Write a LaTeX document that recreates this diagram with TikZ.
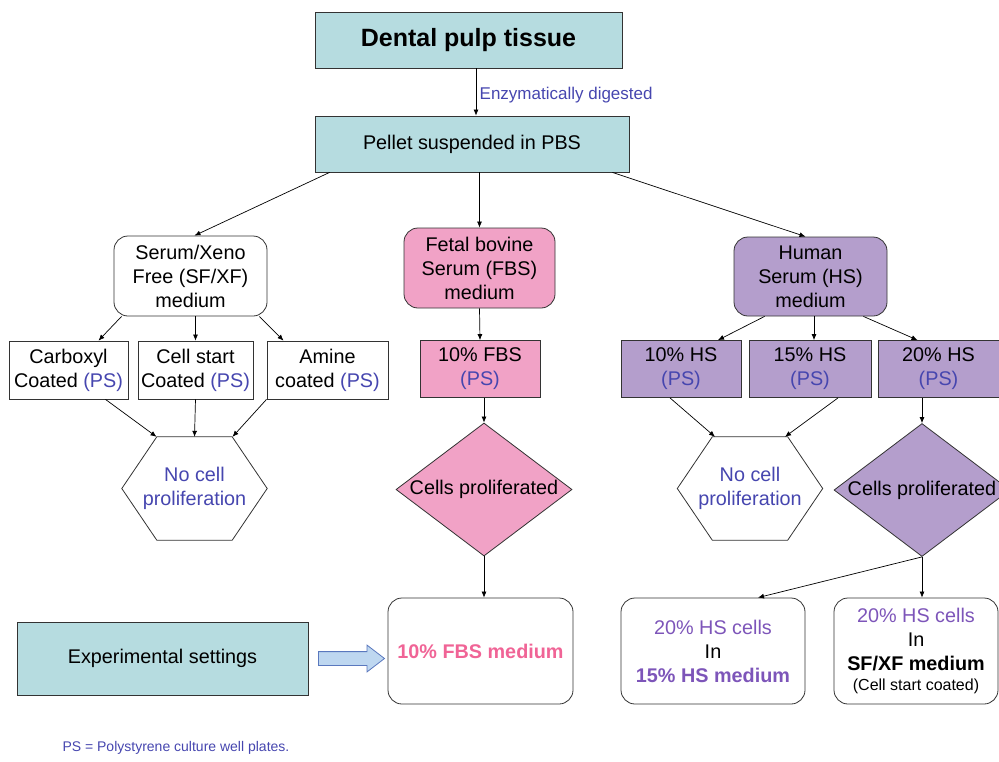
\documentclass[tikz,border=0pt]{standalone}
\usepackage{fontspec}
\setmainfont{Liberation Sans}
\usetikzlibrary{positioning,arrows.meta,shapes.geometric,shapes.arrows}
\definecolor{tealbox}{RGB}{182,220,224}
\definecolor{fbspink}{RGB}{241,162,198}
\definecolor{hspurple}{RGB}{180,158,204}
\definecolor{psblue}{RGB}{70,70,175}
\definecolor{respink}{RGB}{240,100,150}
\definecolor{respurple}{RGB}{125,85,185}
\definecolor{arrowline}{RGB}{90,120,190}
\definecolor{arrowfill}{RGB}{190,215,240}
\newcommand{\pslabel}{\textcolor{psblue}{(PS)}}

\begin{document}
\begin{tikzpicture}[x=1pt,y=-1pt,
        every node/.style={font=\fontsize{19.8}{24}\selectfont},
        box/.style={draw=black!80,line width=0.8pt,align=center,inner sep=2pt},
        rbox/.style={box,rounded corners=14pt},
        hexa/.style={align=center,inner sep=0pt,minimum width=145pt,minimum height=103pt,text=psblue},
        hexline/.style={draw=black!80,line width=0.8pt},
        dia/.style={box,diamond,aspect=1.32,inner sep=0pt,minimum width=176pt,minimum height=133pt},
        arr/.style={-{Latex[length=6pt,width=5pt]},line width=0.7pt}]
        \useasboundingbox (0,0) rectangle (999,761);
        \clip (0,0) rectangle (999,761);
        % top of the tree
        \node[box,fill=tealbox,minimum width=307pt,minimum height=56pt,
              font=\fontsize{25}{28}\selectfont\bfseries] (dental) at (468.5,40) {Dental pulp tissue};
        \node[box,fill=tealbox,minimum width=314pt,minimum height=56pt] (pellet) at (472,144) {Pellet suspended in PBS};
        % media
        \node[rbox,fill=white,minimum width=153pt,minimum height=80pt] (sfxf) at (190.5,276) {Serum/Xeno\\Free (SF/XF)\\medium};
        \node[rbox,fill=fbspink,minimum width=151pt,minimum height=80pt] (fbs) at (479.5,268) {Fetal bovine\\Serum (FBS)\\medium};
        \node[rbox,fill=hspurple,minimum width=153pt,minimum height=79pt] (hs) at (810.5,276.5) {Human\\Serum (HS)\\medium};
        % plates
        \node[box,minimum width=119pt,minimum height=58pt] (carb) at (68.5,370) {Carboxyl\\Coated \pslabel};
        \node[box,minimum width=115pt,minimum height=58pt] (cstart) at (195.5,370) {Cell start\\Coated \pslabel};
        \node[box,minimum width=121pt,minimum height=58pt] (amine) at (327.5,370) {Amine\\coated \pslabel};
        \node[box,fill=fbspink,minimum width=120pt,minimum height=57pt] (fbsten) at (480,369) {10\% FBS\\\pslabel};
        \node[box,fill=hspurple,minimum width=120pt,minimum height=57pt] (hsten) at (681,369) {10\% HS\\\pslabel};
        \node[box,fill=hspurple,minimum width=122pt,minimum height=57pt] (hsfif) at (810,369) {15\% HS\\\pslabel};
        \node[box,fill=hspurple,minimum width=121pt,minimum height=57pt] (hstw) at (938.5,369) {20\% HS\\\pslabel};
        % outcomes
        \node[hexa] (hexl) at (194.5,488.5) {No cell\\proliferation};
        \node[dia,fill=fbspink] (diaf) at (484,489.5) {Cells proliferated};
        \node[hexa] (hexr) at (750,488.5) {No cell\\proliferation};
        \node[dia,fill=hspurple] (diah) at (922,490) {Cells proliferated};
        \foreach \h in {hexl,hexr}
            \draw[hexline] (\h.west) -- ([xshift=35pt]\h.north west) -- ([xshift=-35pt]\h.north east)
                -- (\h.east) -- ([xshift=-35pt]\h.south east) -- ([xshift=35pt]\h.south west) -- cycle;
        % results
        \node[box,fill=tealbox,minimum width=291pt,minimum height=73pt] (expset) at (162.5,658.5) {Experimental settings};
        \node[rbox,minimum width=185pt,minimum height=106pt,font=\fontsize{19.8}{24}\selectfont\bfseries,
              text=respink] (resf) at (480.5,651) {10\% FBS medium};
        \node[rbox,minimum width=184pt,minimum height=106pt] (resa) at (713,651)
             {\textcolor{respurple}{20\% HS cells}\\In\\\textcolor{respurple}{\bfseries 15\% HS medium}};
        \node[rbox,minimum width=164pt,minimum height=106pt] (resb) at (916,651)
             {\textcolor{respurple}{20\% HS cells}\\In\\\textbf{SF/XF medium}\\[-4pt]{\fontsize{16}{18}\selectfont(Cell start coated)}};
        \node[single arrow,draw=arrowline,fill=arrowfill,line width=0.8pt,inner xsep=0pt,inner ysep=6.5pt,
              minimum height=66pt,single arrow head extend=6.5pt,single arrow tip angle=75] (shift) at (347,658.5) {};
        \node[anchor=west,text=psblue,font=\fontsize{14}{16}\selectfont] (note) at (59,748) {PS = Polystyrene culture well plates.};
        % connectors
        \draw[arr] ([xshift=4pt]pellet.north |- dental.south) -- node[right,text=psblue,font=\fontsize{17}{20}\selectfont,yshift=-3pt] (enz) {Enzymatically digested} ([xshift=4pt]pellet.north);
        \draw[arr] ([xshift=15pt]pellet.south west) -- ([xshift=4pt]sfxf.north);
        \draw[arr] (fbs.north |- pellet.south) -- (fbs.north);
        \draw[arr] ([xshift=-17pt]pellet.south east) -- ([xshift=-5pt]hs.north);
        \draw[arr] ([xshift=8pt]sfxf.south west) -- ([xshift=30pt]carb.north);
        \draw[arr] (cstart.north |- sfxf.south) -- (cstart.north);
        \draw[arr] ([xshift=-8pt]sfxf.south east) -- ([xshift=-44pt]amine.north);
        \draw[arr] ([xshift=37pt]carb.south) -- ([xshift=-38pt]hexl.north);
        \draw[arr] (cstart.south) -- (hexl.north);
        \draw[arr] ([xshift=-61pt]amine.south) -- ([xshift=38pt]hexl.north);
        \draw[arr] (fbs.south) -- (fbsten.north);
        \draw[arr] (diaf.north |- fbsten.south) -- (diaf.north);
        \draw[arr] (diaf.south) -- (diaf.south |- resf.north);
        \draw[arr] ([xshift=31pt]hs.south west) -- ([xshift=37pt]hsten.north);
        \draw[arr] ([xshift=4pt]hsfif.north |- hs.south) -- ([xshift=4pt]hsfif.north);
        \draw[arr] ([xshift=-24pt]hs.south east) -- ([xshift=-21pt]hstw.north);
        \draw[arr] ([xshift=-11pt]hsten.south) -- ([xshift=-35pt]hexr.north);
        \draw[arr] ([xshift=28pt]hsfif.south) -- ([xshift=35pt]hexr.north);
        \draw[arr] (diah.north |- hstw.south) -- (diah.north);
        \draw[arr] (diah.south) -- ([xshift=45pt]resa.north);
        \draw[arr] (diah.south) -- (diah.south |- resb.north);
    \end{tikzpicture}
\end{document}
